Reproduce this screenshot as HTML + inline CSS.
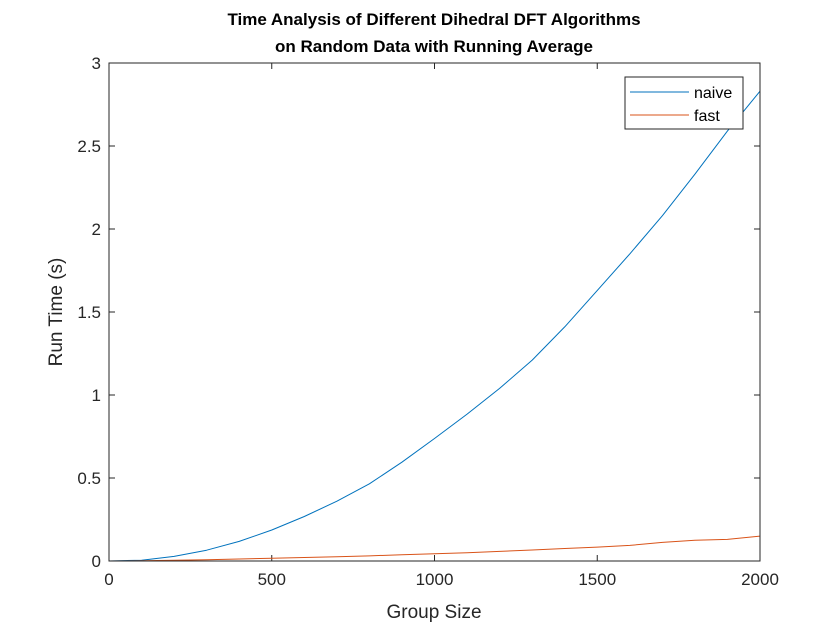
<!DOCTYPE html>
<html><head><meta charset="utf-8"><style>
body{margin:0;background:#fff;}
svg{display:block;font-family:"Liberation Sans",Arial,sans-serif;}
</style></head><body>
<svg id="chart" width="840" height="630">
<rect x="0" y="0" width="840" height="630" fill="#fff"/>
<text x="434" y="25" text-anchor="middle" font-size="17" font-weight="bold" fill="#000">Time Analysis of Different Dihedral DFT Algorithms</text>
<text x="434" y="52" text-anchor="middle" font-size="17" font-weight="bold" fill="#000">on Random Data with Running Average</text>
<g id="ticks"></g>
<g id="series"></g>
<rect x="109" y="63" width="651" height="498" fill="none" stroke="#262626" stroke-width="1"/>
<text x="434" y="618" text-anchor="middle" font-size="19" fill="#262626">Group Size</text>
<text transform="translate(62,312) rotate(-90)" text-anchor="middle" font-size="19" fill="#262626">Run Time (s)</text>
<g>
<rect x="625" y="77" width="118" height="52" fill="#fff" stroke="#262626" stroke-width="1"/>
<line x1="630" y1="92" x2="689" y2="92" stroke="#0072BD" stroke-width="1"/>
<text x="694" y="98" font-size="16" fill="#000">naive</text>
<line x1="630" y1="115" x2="689" y2="115" stroke="#D95319" stroke-width="1"/>
<text x="694" y="121" font-size="16" fill="#000">fast</text>
</g>
</svg>
<script>
const xTicks=[0,500,1000,1500,2000];
const yTicks=[0,0.5,1,1.5,2,2.5,3];
const yTickLabels=["0","0.5","1","1.5","2","2.5","3"];
const groupSizes=[0,100,200,300,400,500,600,700,800,900,1000,1100,1200,1300,1400,1500,1600,1700,1800,1900,2000];
const naiveTimes=[0,0.005,0.028,0.065,0.118,0.187,0.268,0.36,0.465,0.595,0.738,0.885,1.04,1.21,1.41,1.63,1.85,2.08,2.33,2.59,2.83];
const fastTimes=[0,0.002,0.005,0.008,0.012,0.016,0.021,0.026,0.031,0.038,0.044,0.05,0.058,0.066,0.075,0.084,0.094,0.112,0.125,0.13,0.15];
const NS="http://www.w3.org/2000/svg";
const X0=109,X1=760,Y0=561,Y1=63;
function sx(v){return X0+(v-0)/(2000-0)*(X1-X0);}
function sy(v){return Y0-(v-0)/(3-0)*(Y0-Y1);}
const tg=document.getElementById('ticks');
xTicks.forEach(function(t){
 const l=document.createElementNS(NS,'path');
 l.setAttribute('d','M'+sx(t)+' '+Y0+'V'+(Y0-6)+'M'+sx(t)+' '+Y1+'V'+(Y1+6));
 l.setAttribute('stroke','#262626');
 
 
 tg.appendChild(l);
 const tx=document.createElementNS(NS,'text');
 tx.setAttribute('x',sx(t));tx.setAttribute('y',Y0+24);
 tx.setAttribute('text-anchor','middle');tx.setAttribute('font-size','17');tx.setAttribute('fill','#262626');
 tx.textContent=String(t);
 
 
 tg.appendChild(tx);
});
yTicks.forEach(function(t,i){
 const l=document.createElementNS(NS,'path');
 l.setAttribute('d','M'+X0+' '+sy(t)+'H'+(X0+6)+'M'+X1+' '+sy(t)+'H'+(X1-6));
 l.setAttribute('stroke','#262626');
 
 
 tg.appendChild(l);
 const tx=document.createElementNS(NS,'text');
 tx.setAttribute('x',X0-8);tx.setAttribute('y',sy(t)+6);
 tx.setAttribute('text-anchor','end');tx.setAttribute('font-size','17');tx.setAttribute('fill','#262626');
 tx.textContent=yTickLabels[i];
 
 
 tg.appendChild(tx);
});
const sg=document.getElementById('series');
function line(vals,color,name){
 const p=document.createElementNS(NS,'path');
 p.setAttribute('d',vals.map(function(v,i){return (i?'L':'M')+sx(groupSizes[i]).toFixed(1)+' '+sy(v).toFixed(1);}).join(''));
 p.setAttribute('fill','none');p.setAttribute('stroke',color);p.setAttribute('stroke-width','1');
 p.setAttribute('stroke-linejoin','round');
 
 
 sg.appendChild(p);
}
line(naiveTimes,'#0072BD','naive-line');
line(fastTimes,'#D95319','fast-line');
</script>
</body></html>
